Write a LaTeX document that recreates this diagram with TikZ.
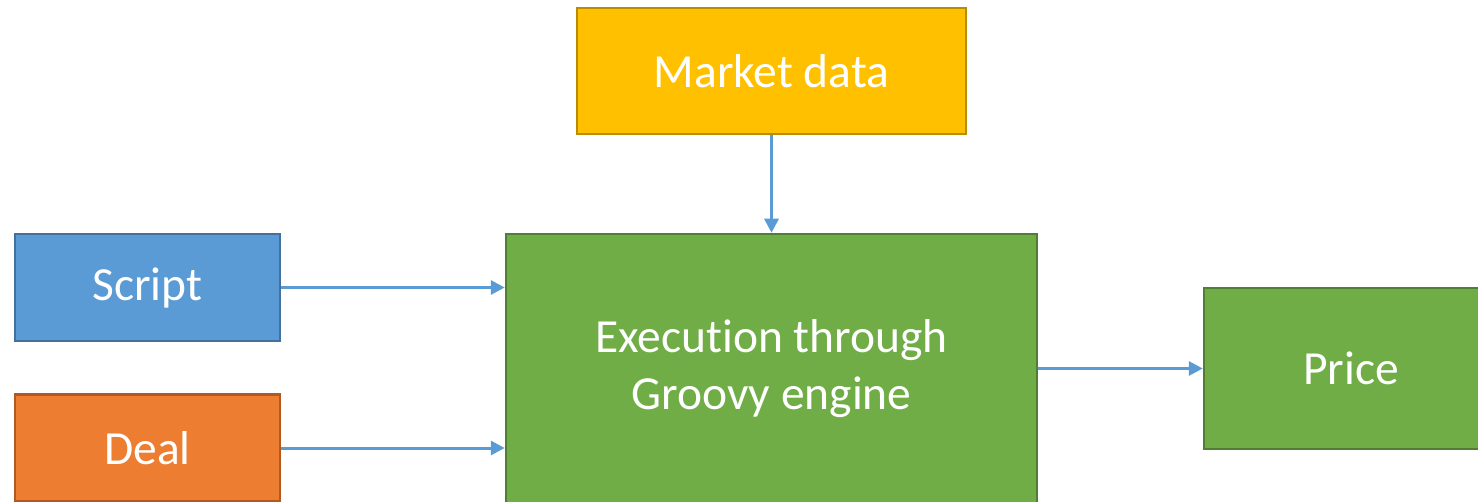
\documentclass[tikz,border=0pt]{standalone}
\usepackage{fontspec}
\setmainfont{Carlito}[Ligatures={NoCommon}]
\usetikzlibrary{arrows.meta}
\definecolor{mdfill}{HTML}{FFC000}\definecolor{mdline}{HTML}{BC8C00}
\definecolor{scfill}{HTML}{5B9BD5}\definecolor{scline}{HTML}{41719C}
\definecolor{dlfill}{HTML}{ED7D31}\definecolor{dlline}{HTML}{AE5A21}
\definecolor{grfill}{HTML}{70AD47}\definecolor{grline}{HTML}{507E32}
\definecolor{flow}{HTML}{5B9BD5}
\tikzset{
  block/.style={draw, line width=2.5pt, inner sep=0pt, text=white,
    font=\fontsize{47.5}{57}\selectfont, align=center},
  link/.style={draw=flow, line width=3pt, -{Triangle[length=14pt,width=14pt]}}
}
\begin{document}
\begin{tikzpicture}[x=1pt,y=-1pt]
\useasboundingbox (0,0) rectangle (1478,502);
\clip (0,0) rectangle (1478,502);
\fill[white] (0,0) rectangle (1478,502);
% input and output blocks
\node[block, fill=mdfill, draw=mdline, minimum width=389pt, minimum height=126pt] (market) at (771.5,71) {Market data};
\node[block, fill=scfill, draw=scline, minimum width=265pt, minimum height=107pt] (script) at (147.5,287.5) {Script};
\node[block, fill=dlfill, draw=dlline, minimum width=265pt, minimum height=107pt] (deal) at (147.5,448) {Deal};
\node[block, fill=grfill, draw=grline, minimum width=531pt, minimum height=270pt] (engine) at (771.5,369) {Execution through\\Groovy engine};
\node[block, fill=grfill, draw=grline, minimum width=294pt, minimum height=161pt] (price) at (1351,368.5) {Price};
% connectors
\draw[link] (market.south) -- (engine.north);
\draw[link] (script.east) -- (script.east -| engine.west);
\draw[link] (deal.east) -- (deal.east -| engine.west);
\draw[link] (engine.east |- price.west) -- (price.west);
\end{tikzpicture}
\end{document}
